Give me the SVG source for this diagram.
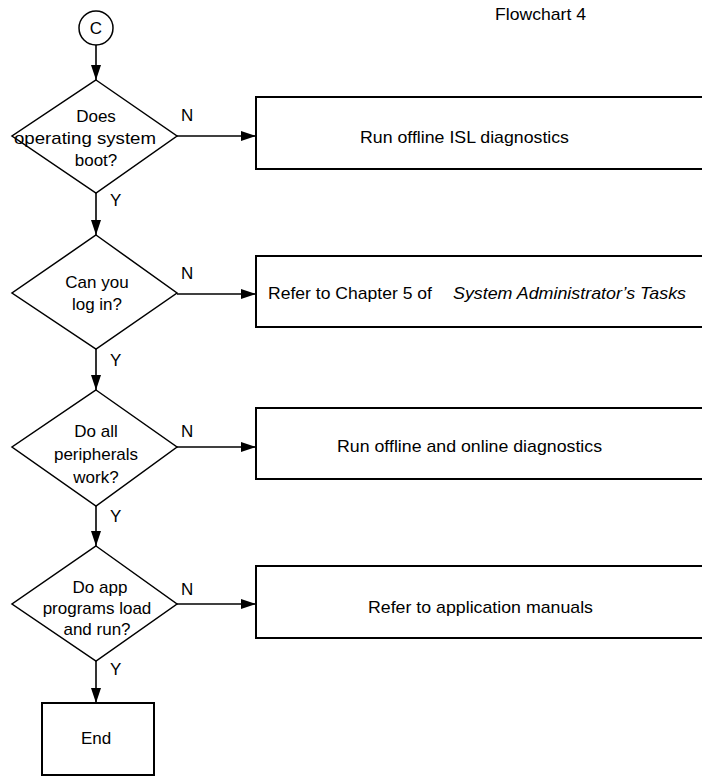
<svg xmlns="http://www.w3.org/2000/svg" width="702" height="776" viewBox="0 0 702 776">
<style>
text{font-family:"Liberation Sans",Arial,Helvetica,sans-serif;font-size:17px;fill:#000}
.c{text-anchor:middle}
.shape{fill:#fff;stroke:#000;stroke-width:1.5}
.box{fill:#fff;stroke:#000;stroke-width:2}
.line{fill:none;stroke:#000;stroke-width:1.6}
</style>
<defs>
<marker id="arr" viewBox="0 0 15 10" refX="15" refY="5" markerWidth="15" markerHeight="10" markerUnits="userSpaceOnUse" orient="auto">
<path d="M0,0 L15,5 L0,10 Z" fill="#000"/>
</marker>
</defs>
<rect width="702" height="776" fill="#fff"/>
<text x="495" y="20" textLength="91" lengthAdjust="spacingAndGlyphs">Flowchart 4</text>

<g id="connectors">
<line class="line" x1="96" y1="45" x2="96" y2="80" marker-end="url(#arr)"/>
<line class="line" x1="96" y1="193" x2="96" y2="235" marker-end="url(#arr)"/>
<line class="line" x1="96" y1="349" x2="96" y2="390" marker-end="url(#arr)"/>
<line class="line" x1="96" y1="506" x2="96" y2="546" marker-end="url(#arr)"/>
<line class="line" x1="96" y1="661" x2="96" y2="703" marker-end="url(#arr)"/>
<line class="line" x1="177" y1="136" x2="256" y2="136" marker-end="url(#arr)"/>
<line class="line" x1="177" y1="294" x2="256" y2="294" marker-end="url(#arr)"/>
<line class="line" x1="177" y1="447" x2="256" y2="447" marker-end="url(#arr)"/>
<line class="line" x1="177" y1="604" x2="256" y2="604" marker-end="url(#arr)"/>
<text x="181" y="121">N</text>
<text x="181" y="279">N</text>
<text x="181" y="437">N</text>
<text x="181" y="595">N</text>
<text x="110" y="206">Y</text>
<text x="110" y="366">Y</text>
<text x="110" y="522">Y</text>
<text x="110" y="675">Y</text>
</g>

<g id="start">
<circle class="shape" cx="96" cy="28" r="17"/>
<text class="c" x="96" y="34">C</text>
</g>

<g id="d1">
<polygon class="shape" points="96,80 177,136 96,193 12,136"/>
<text class="c" x="96" y="122">Does</text>
<text class="c" x="85" y="144" textLength="142" lengthAdjust="spacingAndGlyphs">operating system</text>
<text class="c" x="96" y="166">boot?</text>
</g>

<g id="d2">
<polygon class="shape" points="96,235 177,293 96,349 12,293"/>
<text class="c" x="97" y="288">Can you</text>
<text class="c" x="97" y="310">log in?</text>
</g>

<g id="d3">
<polygon class="shape" points="96,390 177,447 96,506 12,447"/>
<text class="c" x="96" y="437">Do all</text>
<text class="c" x="96" y="460">peripherals</text>
<text class="c" x="96" y="483">work?</text>
</g>

<g id="d4">
<polygon class="shape" points="96,546 177,604 96,661 12,604"/>
<text class="c" x="100" y="593">Do app</text>
<text class="c" x="97" y="614">programs load</text>
<text class="c" x="97" y="635">and run?</text>
</g>

<g id="b1">
<rect class="box" x="256" y="97" width="460" height="72"/>
<text x="360" y="143" textLength="209" lengthAdjust="spacingAndGlyphs">Run offline ISL diagnostics</text>
</g>

<g id="b2">
<rect class="box" x="256" y="256" width="460" height="71"/>
<text x="268" y="299" textLength="164" lengthAdjust="spacingAndGlyphs">Refer to Chapter 5 of</text>
<text x="453" y="299" font-style="italic" textLength="233" lengthAdjust="spacingAndGlyphs">System Administrator’s Tasks</text>
</g>

<g id="b3">
<rect class="box" x="256" y="408" width="460" height="71"/>
<text x="337" y="452" textLength="265" lengthAdjust="spacingAndGlyphs">Run offline and online diagnostics</text>
</g>

<g id="b4">
<rect class="box" x="256" y="566" width="460" height="72"/>
<text x="368" y="613" textLength="225" lengthAdjust="spacingAndGlyphs">Refer to application manuals</text>
</g>

<g id="end">
<rect class="box" x="42" y="703" width="112" height="72"/>
<text class="c" x="96" y="744">End</text>
</g>
</svg>
